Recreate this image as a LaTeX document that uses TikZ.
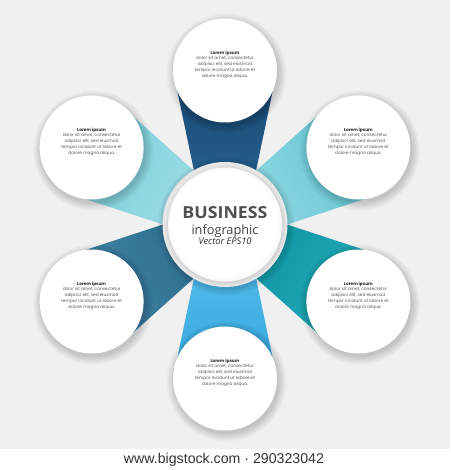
\documentclass[tikz,border=0pt]{standalone}
\usepackage{fontspec}
\setmainfont{Poppins}
\newfontfamily\headfont{Open Sans}
\newfontfamily\footfont{Liberation Sans}
\usetikzlibrary{calc}
\definecolor{bg}{HTML}{F0F0F0}
\definecolor{textgray}{HTML}{555555}
\definecolor{titlegray}{HTML}{2A2A2A}
\definecolor{bizgray}{HTML}{505050}
\definecolor{ring}{HTML}{E6E6E6}
\definecolor{navyIn}{HTML}{245C8A}
\definecolor{navyOut}{HTML}{1A4872}
\definecolor{ltealIn}{HTML}{8AD6E0}
\definecolor{ltealOut}{HTML}{58C0CF}
\definecolor{tealIn}{HTML}{1497A6}
\definecolor{tealOut}{HTML}{22ADBA}
\definecolor{skyIn}{HTML}{4FB8E8}
\definecolor{skyOut}{HTML}{34A6DC}
\definecolor{steelIn}{HTML}{30708F}
\definecolor{steelOut}{HTML}{4589A9}
\definecolor{cyanIn}{HTML}{9ADBE4}
\definecolor{cyanOut}{HTML}{74CCD9}
\tikzset{
  bubble/.style={circle, fill=white, minimum size=104pt, inner sep=0pt},
  lorem/.style={align=center, font=\fontsize{4.3}{5.8}\selectfont, text=textgray, inner sep=0pt},
  softshadow/.style={black, opacity=0.018},
}
\newcommand{\loremtext}{{\color{titlegray}\bfseries Lorem ipsum}\\dolor sit amet, consectetur\\adipisci elit, sed eiusmod\\tempor incidunt ut labore et\\dolore magna aliqua.}
\begin{document}
\begin{tikzpicture}[x=1pt,y=1pt]
\useasboundingbox (0,0) rectangle (450,470);
\fill[bg] (0,21) rectangle (450,470);
\fill[white] (0,0) rectangle (450,21);
\coordinate (C) at (225,245.5);
% petals
\foreach \a/\ci/\co in {90/navyIn/navyOut, 30/ltealIn/ltealOut, -30/tealIn/tealOut, -90/skyIn/skyOut, -150/steelIn/steelOut, 150/cyanIn/cyanOut}{
  \path[top color=\co, bottom color=\ci, shading angle=\a-90]
    ($(C)+(\a-30:62)$) -- ($(C)+(\a:154)+(\a-90:52)$) -- ($(C)+(\a:154)+(\a+90:52)$) -- ($(C)+(\a+30:62)$) -- cycle;
}
% soft shadows of outer circles
\foreach \a in {90,30,-30,-90,-150,150}{
  \foreach \r in {60,59,...,52}{
    \fill[softshadow] ($(C)+(\a:154)+(1.5,-3)$) circle (\r);
  }
}
% outer circles
\node[bubble] (o1) at ($(C)+(90:154)$) {};
\node[bubble] (o2) at ($(C)+(30:154)$) {};
\node[bubble] (o3) at ($(C)+(-30:154)$) {};
\node[bubble] (o4) at ($(C)+(-90:154)$) {};
\node[bubble] (o5) at ($(C)+(-150:154)$) {};
\node[bubble] (o6) at ($(C)+(150:154)$) {};
\foreach \n in {1,...,6}{
  \node[lorem] (t\n) at ($(o\n)+(0,6)$) {\loremtext};
}
% center circle
\foreach \r in {69,68,...,63}{
  \fill[softshadow] ($(C)+(1,-2)$) circle (\r);
}
\node[circle, fill=ring, minimum size=125pt, inner sep=0pt] (c) at (C) {};
\foreach \r in {60,59,58}{
  \fill[black, opacity=0.025] ($(C)+(0.5,-1)$) circle (\r);
}
\fill[white!98!black] (C) circle (57);
\fill[white] ($(C)+(-1,1)$) circle (54);
\node[text=bizgray, inner sep=0pt] (biz) at (225,257) {\resizebox{85pt}{12pt}{\headfont\bfseries BUSINESS}};
\node[text=titlegray!90, inner sep=0pt] (info) at (225,239) {\resizebox{67pt}{!}{\headfont infographic}};
\node[text=titlegray, inner sep=0pt] (vec) at (225,228.5) {\resizebox{53pt}{!}{\headfont\itshape Vector EPS10}};
% footer
\node[text=black!80, inner sep=0pt] (foot) at (224,10) {\resizebox{200pt}{!}{\footfont www.bigstock.com · 290323042}};
\end{tikzpicture}
\end{document}
